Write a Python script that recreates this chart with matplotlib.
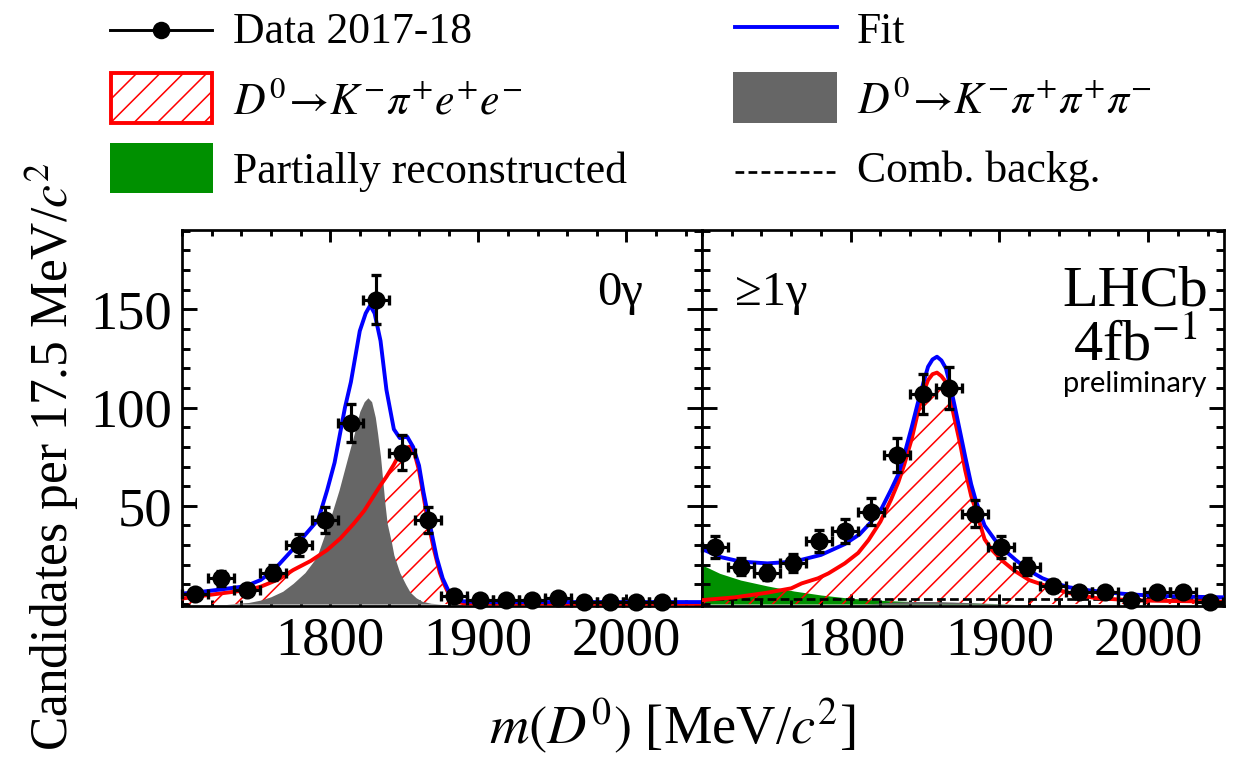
# D0 -> K pi e e mass fit, two photon categories side by side (LHCb style)
import matplotlib
matplotlib.use("Agg")
import matplotlib.pyplot as plt
from matplotlib.ticker import MultipleLocator, FixedLocator
from matplotlib.patches import Rectangle

plt.rcParams["font.family"] = ["Liberation Serif", "DejaVu Serif"]
plt.rcParams["mathtext.fontset"] = "stix"
plt.rcParams["hatch.linewidth"] = 0.8
plt.rcParams["lines.scale_dashes"] = False

# ---- data points (bin centres of 17.5 MeV bins) ----
bin_centres = [1708.75, 1726.25, 1743.75, 1761.25, 1778.75, 1796.25, 1813.75,
               1831.25, 1848.75, 1866.25, 1883.75, 1901.25, 1918.75, 1936.25,
               1953.75, 1971.25, 1988.75, 2006.25, 2023.75, 2041.25]
bin_half = 8.75

counts_0g = [5, 13, 7, 16, 30, 43, 92, 155, 77, 43, 4, 2, 2, 2, 3, 1, 1, 1, 1]
errors_0g = [2.2, 3.6, 2.6, 4.0, 5.5, 6.6, 9.6, 12.4, 8.8, 6.6, 2.0, 1.4, 1.4,
             1.4, 1.7, 1.0, 1.0, 1.0, 1.0]

counts_1g = [29, 19, 16, 21, 32, 37, 47, 76, 107, 110, 46, 29, 19, 9, 6, 6, 2,
             6, 6, 1]
errors_1g = [5.4, 4.4, 4.0, 4.6, 5.7, 6.1, 6.9, 8.7, 10.3, 10.5, 6.8, 5.4, 4.4,
             3.0, 2.4, 2.4, 1.4, 2.4, 2.4, 1.0]

# ---- fit components, 0 gamma ----
fit0_m = [1700, 1715, 1726, 1743, 1753, 1762, 1775, 1784, 1792, 1798, 1803,
          1807, 1810, 1814, 1817, 1820, 1824, 1827, 1830, 1834, 1838, 1843,
          1847, 1852, 1856, 1860, 1863, 1868, 1872, 1876, 1880, 1884, 1890,
          1900, 1950, 2000, 2051]
fit0_v = [5.3, 6.4, 7.4, 9.1, 12.2, 17.3, 28, 36, 43, 58, 72, 88, 100, 113,
          126, 139, 148, 152, 148, 134, 109, 89, 84.5, 85.2, 80, 70.5, 57, 38,
          23.5, 13, 6.5, 2.5, 1.4, 1.0, 1.0, 1.0, 1.0]

sig0_m = [1700, 1725, 1743, 1753, 1765, 1775, 1787, 1798, 1807, 1816, 1823,
          1829, 1834, 1838, 1843, 1847, 1851, 1854, 1857, 1860, 1863, 1866,
          1870, 1874, 1877, 1881, 1885, 1890, 1900, 2000, 2051]
sig0_v = [2.8, 5.3, 7.0, 8.8, 12.5, 17.3, 22, 27.5, 33.5, 41, 47.5, 54.6, 60.5,
          64.8, 71, 76.7, 79.5, 80.1, 76.5, 68, 55, 42, 28, 16, 10, 3.7, 1.2,
          0.4, 0.3, 0.2, 0.2]

kppp0_m = [1730, 1745, 1753, 1760, 1768, 1775, 1783, 1791, 1799, 1806, 1812,
           1816, 1820, 1823, 1825.5, 1828, 1830.5, 1832, 1834, 1837, 1838.5,
           1841.5, 1843, 1847, 1851, 1854, 1858, 1862, 1868, 1875]
kppp0_v = [0, 0.8, 2.0, 3.7, 6.5, 10.5, 16, 24, 41, 58, 75, 86, 98, 103, 105,
           103, 95, 87, 75, 51, 41, 31, 25, 16, 10, 6, 3.2, 1.4, 0.4, 0]

# ---- fit components, >=1 gamma ----
fit1_m = [1700, 1712, 1726, 1744, 1762, 1780, 1796, 1806, 1814, 1821, 1827,
          1832, 1836, 1841, 1845, 1849, 1852, 1855, 1858, 1861, 1864, 1867,
          1870, 1874, 1877, 1881, 1884, 1890, 1897, 1904, 1911, 1920, 1929,
          1938, 1947, 1960, 1974, 1990, 2010, 2030, 2052]
fit1_v = [28, 24, 21.6, 20.7, 21.6, 25, 30.5, 35.5, 42, 49, 58, 66, 76, 90,
          102, 113, 120.8, 124.5, 125.9, 124, 120, 111, 100.5, 86, 75, 61, 53,
          40, 32.6, 27, 22.4, 17, 13.1, 10.5, 8.5, 7, 5.8, 4.8, 4.1, 3.7, 3.4]

sig1_m = [1700, 1722, 1744, 1760, 1767, 1778, 1785, 1796, 1805, 1812, 1820,
          1827, 1832, 1836, 1841, 1845, 1849, 1852, 1855, 1858, 1861, 1864,
          1867, 1870, 1874, 1877, 1881, 1884, 1890, 1895, 1902, 1910, 1920,
          1938, 1950, 1965, 1990, 2010, 2052]
sig1_v = [2, 3.4, 5.8, 8, 10.5, 13.1, 15.6, 20.7, 26, 32.6, 42, 53, 62, 71, 84,
          97, 108, 114, 117, 117.8, 116, 113, 104, 93.7, 80, 68, 55, 48, 33,
          27.5, 22, 17, 12.2, 7.5, 5, 3, 1.9, 1.6, 1.2]

part1_m = [1700, 1712, 1726, 1744, 1762, 1780, 1800, 1825, 1845, 1870, 1890,
           1910]
part1_v = [19.9, 15.6, 12.2, 9.2, 6.6, 4.6, 2.9, 1.7, 1.2, 0.7, 0.3, 0]

kppp1_m = [1810, 1825, 1840, 1855, 1870, 1890, 1910]
kppp1_v = [0, 0.8, 1.3, 1.3, 1.0, 0.4, 0]

comb1_m = [1700, 2052]
comb1_v = [2.5, 2.5]

x_major = [1800, 1900, 2000]
y_major = [50, 100, 150]

RED = "#ff0000"
BLUE = "#0000ff"
GREY = "#666666"
GREEN = "#009000"
COMB_DASH = (0, (4.5, 2.2))

W, H, DPI = 1233, 758, 140
fig = plt.figure(figsize=(W / DPI, H / DPI), dpi=DPI)

ax0 = fig.add_axes([182 / W, 1 - 606 / H, 520 / W, 376 / H])
ax1 = fig.add_axes([702 / W, 1 - 606 / H, 522 / W, 376 / H])


def draw_panel(ax, fit_m, fit_v, sig_m, sig_v, kppp_m, kppp_v, counts, errors,
               comb_m=None, comb_v=None, part_m=None, part_v=None):
    if part_m is not None:
        ax.fill_between(part_m, 0, part_v, color=GREEN, lw=0, zorder=1)
    ax.fill_between(sig_m, 0, sig_v, facecolor="none", edgecolor=RED,
                    hatch="//", lw=0, zorder=2)
    ax.fill_between(kppp_m, 0, kppp_v, color=GREY, lw=0, zorder=3)
    if comb_m is not None:
        ax.plot(comb_m, comb_v, color="black", lw=1.4, ls=COMB_DASH, zorder=4)
    ax.plot(sig_m, sig_v, color=RED, lw=2.0, zorder=5)
    ax.plot(fit_m, fit_v, color=BLUE, lw=2.0, zorder=6)
    n = len(counts)
    ax.errorbar(bin_centres[:n], counts, yerr=errors, xerr=bin_half, fmt="o",
                color="black", ms=8.3, elinewidth=1.6, capsize=2.4,
                capthick=1.7, clip_on=False, zorder=10)

    ax.set_xlim(1700, 2051)
    ax.set_ylim(-1.0, 190.4)
    ax.xaxis.set_major_locator(FixedLocator(x_major))
    ax.xaxis.set_minor_locator(MultipleLocator(20))
    ax.yaxis.set_major_locator(FixedLocator(y_major))
    ax.yaxis.set_minor_locator(MultipleLocator(10))
    ax.tick_params(which="both", direction="in", top=True, right=True,
                   width=1.5, labelsize=28, pad=5)
    ax.tick_params(axis="x", which="major", length=6)
    ax.tick_params(axis="x", which="minor", length=3)
    ax.tick_params(axis="y", which="major", length=7.5)
    ax.tick_params(axis="y", which="minor", length=4)
    for sp in ax.spines.values():
        sp.set_linewidth(1.4)


draw_panel(ax0, fit0_m, fit0_v, sig0_m, sig0_v, kppp0_m, kppp0_v,
           counts_0g, errors_0g)
draw_panel(ax1, fit1_m, fit1_v, sig1_m, sig1_v, kppp1_m, kppp1_v,
           counts_1g, errors_1g, comb1_m, comb1_v, part1_m, part1_v)
ax1.tick_params(labelleft=False)

ax0.text(0.8865, 0.8005, "0γ", transform=ax0.transAxes, ha="right",
         va="baseline", fontsize=25)
ax1.text(0.063, 0.8005, "≥1γ", transform=ax1.transAxes, ha="left",
         va="baseline", fontsize=25)
ax1.text(0.8295, 0.8005, "LHCb", transform=ax1.transAxes, ha="center",
         va="baseline", fontsize=30)
ax1.text(0.8295, 0.654, "4fb$^{-1}$", transform=ax1.transAxes, ha="center",
         va="baseline", fontsize=30)
ax1.text(0.8295, 0.569, "preliminary", transform=ax1.transAxes, ha="center",
         va="baseline", fontsize=15, family=["Lato", "DejaVu Sans"])

fig.text(52 / W, 1 - 457 / H, "Candidates per 17.5 MeV/$c^2$", rotation=90,
         ha="center", va="center", fontsize=26.5)
fig.text(672 / W, 1 - 744 / H, "$m(D^0)$ [MeV/$c^2$]", ha="center",
         va="baseline", fontsize=28)

# ---- legend, laid out in pixel coordinates ----
lg = fig.add_axes([0, 0, 1, 1])
lg.set_xlim(0, W)
lg.set_ylim(H, 0)
lg.axis("off")

lg.plot([110, 212], [30, 30], color="black", lw=1.5)
lg.plot([161], [30], "o", color="black", ms=8)
lg.add_patch(Rectangle((111, 73), 101, 50, facecolor="white", edgecolor=RED,
                       hatch="//", lw=2))
lg.add_patch(Rectangle((110, 143), 103, 50, facecolor=GREEN, lw=0))
lg.plot([735, 837], [27, 27], color=BLUE, lw=2)
lg.add_patch(Rectangle((733, 72), 104, 51, facecolor=GREY, lw=0))
lg.plot([735, 837], [172, 172], color="black", lw=1.4, ls=COMB_DASH)

leg_fs = 22.5
lg.text(233, 43, "Data 2017-18", fontsize=leg_fs, va="baseline")
lg.text(233, 113, r"$D^0\!\rightarrow\! K^{-}\pi^{+}e^{+}e^{-}$",
        fontsize=leg_fs, va="baseline")
lg.text(233, 183, "Partially reconstructed", fontsize=leg_fs, va="baseline")
lg.text(857, 43, "Fit", fontsize=leg_fs, va="baseline")
lg.text(857, 113, r"$D^0\!\rightarrow\! K^{-}\pi^{+}\pi^{+}\pi^{-}$",
        fontsize=leg_fs, va="baseline")
lg.text(857, 182, "Comb. backg.", fontsize=leg_fs, va="baseline")

fig.savefig("out.png", dpi=DPI)
